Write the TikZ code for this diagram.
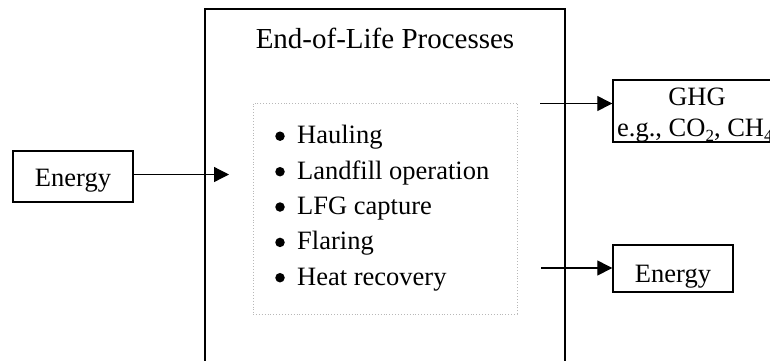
\documentclass[tikz,border=0pt]{standalone}
\usepackage{fontspec}
\setmainfont{Liberation Serif}
\usetikzlibrary{arrows.meta}
\newcommand{\bodyfont}{\fontsize{26.5}{30}\selectfont}
\newcommand{\titlefont}{\fontsize{29}{32}\selectfont}
\newcommand{\subnum}[1]{\raisebox{-0.22em}{\fontsize{17}{17}\selectfont #1}}
\begin{document}
\begin{tikzpicture}[x=1pt,y=-1pt,
  mainbox/.style={draw, line width=1.6pt, inner sep=0pt},
  flowbox/.style={draw, line width=1.4pt, inner sep=0pt, fill=white},
  listbox/.style={draw=black!28, dotted, line width=0.9pt, inner sep=0pt},
  label/.style={anchor=base, inner sep=0pt, font=\bodyfont},
  item/.style={anchor=base west, inner sep=0pt, font=\bodyfont},
  dot/.style={circle, fill=black, inner sep=0pt, minimum size=9.5pt},
  flow/.style={line width=1.3pt, -{Triangle[length=15pt,width=15pt]}}]
\clip (0,0) rectangle (770,360);

% process boundary and the list of activities inside it
\node[mainbox, minimum width=360pt, minimum height=370pt] (eol) at (385,194) {};
\node[anchor=base, inner sep=0pt, font=\titlefont] (title) at (385,48) {End-of-Life Processes};
\node[listbox, minimum width=264pt, minimum height=211pt] (list) at (385,208.5) {};
\foreach \y/\txt [count=\k] in {143.5/Hauling, 179/Landfill operation,
    214.3/LFG capture, 249.7/Flaring, 285/Heat recovery} {
  \node[dot] (b\k) at (280,\y-7.3) {};
  \node[item] (i\k) at (297,\y) {\txt};
}

% energy input
\node[flowbox, minimum width=120pt, minimum height=51pt] (ein) at (73,176.5) {};
\node[label] (einlabel) at (73,186) {Energy};
\coordinate (einend) at (229,174.5);
\draw[flow] (ein.east |- einend) -- (einend);

% emissions output
\node[flowbox, minimum width=168pt, minimum height=62pt] (ghg) at (697,111) {};
\node[label] (ghglabel) at (697,105) {GHG};
\node[anchor=base west, inner sep=0pt, font=\bodyfont] (ghgex) at (617,136)
  {e.g., CO\subnum{2}, CH\subnum{4}};
\coordinate (ghgstart) at (540,103.5);
\draw[flow] (ghgstart) -- (ghgstart -| ghg.west);

% energy output
\node[flowbox, minimum width=120pt, minimum height=47pt] (eout) at (673,268.5) {};
\node[label] (eoutlabel) at (673,282) {Energy};
\coordinate (eoutstart) at (541,268);
\draw[flow] (eoutstart) -- (eoutstart -| eout.west);
\end{tikzpicture}
\end{document}
